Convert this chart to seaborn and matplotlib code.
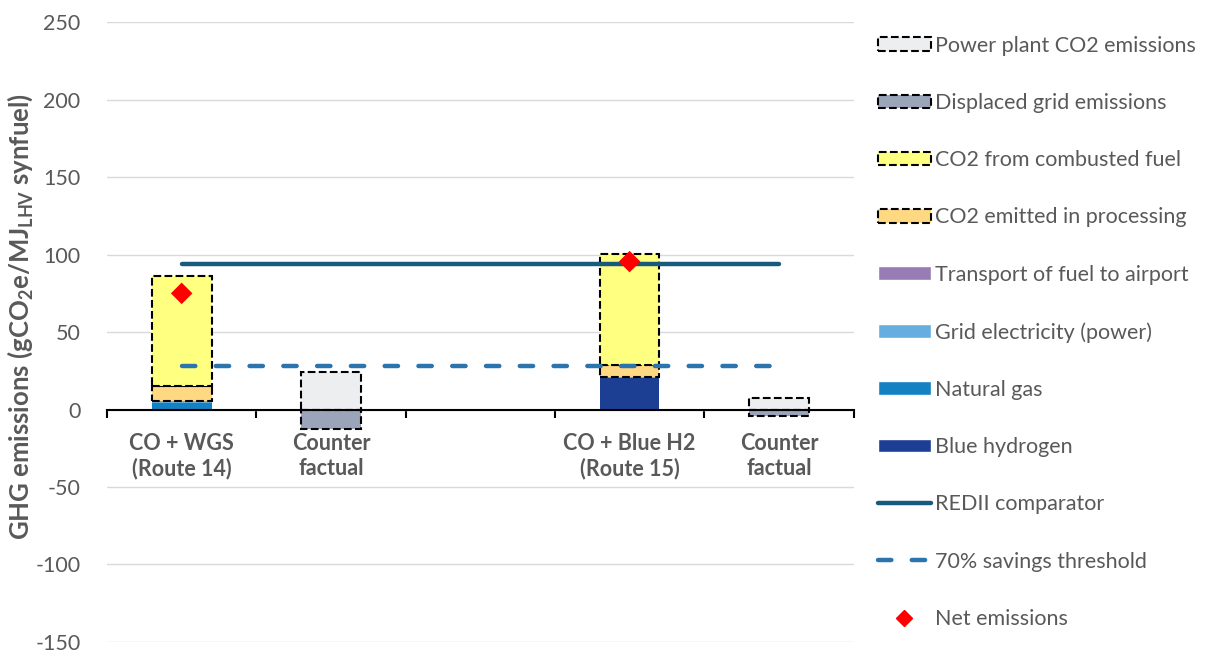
import numpy as np
import pandas as pd
import matplotlib.pyplot as plt
import seaborn as sns
from matplotlib.patches import Patch
from matplotlib.lines import Line2D

sns.set_theme(style="white")
plt.rcParams["font.family"] = ["Lato", "DejaVu Sans"]
plt.rcParams["axes.unicode_minus"] = False
plt.rcParams["mathtext.fontset"] = "custom"
plt.rcParams["mathtext.rm"] = "Lato:bold"
plt.rcParams["mathtext.it"] = "Lato:bold"
plt.rcParams["mathtext.bf"] = "Lato:bold"

# ------------------------------------------------------------------
# data (gCO2e/MJ)
# ------------------------------------------------------------------
categories = ["R14", "CF14", "gap", "R15", "CF15"]
tick_labels = ["CO + WGS\n(Route 14)", "Counter\nfactual", "",
               "CO + Blue H2\n(Route 15)", "Counter\nfactual"]

blue_hydrogen = [0, 0, 0, 20.5, 0]
natural_gas = [4.5, 0, 0, 0, 0]
grid_electricity = [1.0, 0, 0, 0.6, 0]
transport = [0, 0, 0, 0, 0]
co2_processing = [9.5, 0, 0, 7.5, 0]
co2_combusted = [71.0, 0, 0, 71.5, 0]
power_plant = [0, 24.0, 0, 0, 7.7]
displaced_grid = [0, -12.3, 0, 0, -3.9]
net_emissions = [75.0, np.nan, np.nan, 95.5, np.nan]
redii = [94.0] * 5
threshold = [28.2] * 5

GREY = "#595959"
FS = 15.5
DASH = (3, 4.6)
layers = [
    ("Blue hydrogen", blue_hydrogen, "#1C3F94", False),
    ("Natural gas", natural_gas, "#1381C2", False),
    ("Grid electricity (power)", grid_electricity, "#67AEE0", False),
    ("Transport of fuel to airport", transport, "#977CB6", False),
    ("CO2 emitted in processing", co2_processing, "#FFD981", True),
    ("CO2 from combusted fuel", co2_combusted, "#FFFF80", True),
    ("Power plant CO2 emissions", power_plant, "#EDEEF0", True),
]

fig, ax = plt.subplots(figsize=(12.09, 6.55), dpi=100)
fig.subplots_adjust(left=0.0885, right=0.706, top=0.966, bottom=0.02)

# stacked positive bars
bottom = np.zeros(len(categories))
for name, vals, col, dashed in layers:
    vals = np.asarray(vals, dtype=float)
    keep = vals != 0
    if keep.any():
        df = pd.DataFrame({"cat": np.array(categories)[keep], "val": vals[keep]})
        sns.barplot(data=df, x="cat", y="val", order=categories, color=col,
                    width=0.4, bottom=bottom[keep], ax=ax, errorbar=None,
                    saturation=1,
                    edgecolor="black" if dashed else col,
                    linestyle="--" if dashed else "-",
                    linewidth=1.5 if dashed else 0)
    bottom += vals

# negative part (displaced grid)
vals = np.asarray(displaced_grid, dtype=float)
keep = vals != 0
df = pd.DataFrame({"cat": np.array(categories)[keep], "val": vals[keep]})
sns.barplot(data=df, x="cat", y="val", order=categories, color="#9AA5BA",
            width=0.4, ax=ax, errorbar=None, saturation=1,
            edgecolor="black", linestyle="--", linewidth=1.5)

pos = np.arange(len(categories))
lines = pd.DataFrame({"pos": pos, "redii": redii, "thr": threshold})
sns.lineplot(data=lines, x="pos", y="redii", ax=ax, color="#185A7D",
             linewidth=3.2, solid_capstyle="round")
sns.lineplot(data=lines, x="pos", y="thr", ax=ax, color="#2B74AE",
             linewidth=3.2, dashes=DASH, dash_capstyle="round")
sns.scatterplot(x=pos, y=net_emissions, ax=ax, marker="D", color="#FF0000",
                s=120, edgecolor="none", zorder=5)

# axes styling
ax.set_ylim(-150, 250)
ax.set_xlim(-0.5, len(categories) - 0.5)
ax.set_yticks(range(-150, 251, 50))
ax.yaxis.grid(True, color="#D9D9D9", linewidth=1)
ax.set_axisbelow(True)
for s in ["left", "right", "top"]:
    ax.spines[s].set_visible(False)
ax.spines["bottom"].set_position(("data", 0))
ax.spines["bottom"].set_color("black")
ax.spines["bottom"].set_linewidth(1.5)
ax.set_xticks(pos)
ax.set_xticklabels(tick_labels, fontsize=FS, fontweight="bold", color=GREY)
ax.set_xticks(np.arange(-0.5, len(categories), 1), minor=True)
ax.tick_params(axis="x", which="major", length=0, pad=17)
ax.tick_params(axis="x", which="minor", length=6, width=1.5, color="black",
               direction="out", bottom=True)
ax.tick_params(axis="y", length=0, labelsize=FS, labelcolor=GREY, pad=19)
ax.set_xlabel("")
ax.set_ylabel("GHG emissions (gCO$_2$e/MJ$_{LHV}$ synfuel)", fontsize=18.5,
              fontweight="bold", color=GREY)
ax.yaxis.set_label_coords(-0.097, 0.525)

# legend
def dashed_patch(col):
    return Patch(facecolor=col, edgecolor="black", linestyle="--", linewidth=1.5)

handles = [
    dashed_patch("#EDEEF0"),
    dashed_patch("#9AA5BA"),
    dashed_patch("#FFFF80"),
    dashed_patch("#FFD981"),
    Patch(facecolor="#977CB6"),
    Patch(facecolor="#67AEE0"),
    Patch(facecolor="#1381C2"),
    Patch(facecolor="#1C3F94"),
    Line2D([], [], color="#185A7D", linewidth=3.2, solid_capstyle="round"),
    Line2D([], [], color="#2B74AE", linewidth=3.2, dashes=DASH,
           dash_capstyle="round"),
    Line2D([], [], color="#FF0000", marker="D", linestyle="none", markersize=8),
]
labels = ["Power plant CO2 emissions", "Displaced grid emissions",
          "CO2 from combusted fuel", "CO2 emitted in processing",
          "Transport of fuel to airport", "Grid electricity (power)",
          "Natural gas", "Blue hydrogen", "REDII comparator",
          "70% savings threshold", "Net emissions"]
leg = fig.legend(handles, labels, loc="upper left", bbox_to_anchor=(0.71, 0.975),
                 frameon=False, fontsize=FS, labelcolor=GREY,
                 handlelength=2.45, handleheight=0.6, handletextpad=0.2,
                 labelspacing=1.73)

fig.savefig("out.png", dpi=100)
